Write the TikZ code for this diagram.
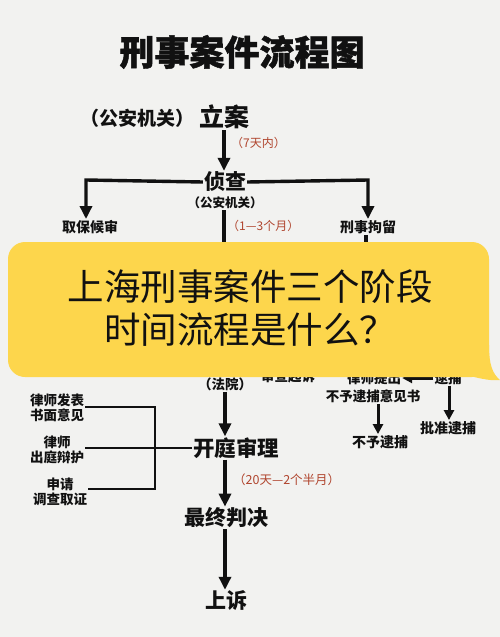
\documentclass[tikz,border=0pt]{standalone}
\usepackage{fontspec}
\newfontfamily\cjk{Noto Sans CJK SC}
\newfontfamily\cjkheavy{Noto Sans CJK SC}[BoldFeatures={FakeBold=1.3}]
\usetikzlibrary{arrows.meta,calc}
\definecolor{bgcol}{HTML}{F2F2F0}
\definecolor{bubble}{HTML}{FDD64C}
\definecolor{redlab}{HTML}{B0452E}
\definecolor{ink}{HTML}{111111}
\begin{document}
\begin{tikzpicture}[x=1pt,y=-1pt,
  txt/.style={inner sep=1pt,text=ink,font=\cjk\bfseries\fontsize{#1}{#1}\selectfont},
  txt/.default=13,
  twoline/.style={inner sep=1pt,text=ink,align=center,font=\cjk\bfseries\fontsize{13.5}{15}\selectfont},
  redtxt/.style={inner sep=1pt,text=redlab,anchor=west,font=\cjk\fontsize{#1}{#1}\selectfont},
  mainarr/.style={draw=ink,line width=3.4pt,-{Triangle[width=12pt,length=13pt]}},
  mainline/.style={draw=ink,line width=3.4pt},
  smallarr/.style={draw=ink,line width=3pt,-{Triangle[width=10pt,length=10pt]}},
  bracket/.style={draw=ink,line width=2.4pt}]
\useasboundingbox (0,0) rectangle (500,637);
\fill[bgcol] (0,0) rectangle (500,637);

% title
\node[inner sep=1pt,text=ink,font=\cjkheavy\bfseries\fontsize{35}{35}\selectfont] (title) at (242,52) {刑事案件流程图};

% top part
\node[txt=19] (gongan1) at (137,118) {（公安机关）};
\node[txt=25] (lian) at (224,117) {立案};
\node[redtxt=12] (red1) at (230,143) {（7天内）};
\node[txt=21] (zhencha) at (225,182) {侦查};
\node[txt=12.5] (gongan2) at (225,203) {（公安机关）};
\node[txt=14] (qubao) at (90,227) {取保候审};
\node[txt=14] (juliu) at (368,227) {刑事拘留};
\node[redtxt=12] (red2) at (226,226) {（1—3个月）};

\coordinate (lt) at (86,180);
\coordinate (rt) at (368,180);
\coordinate (mid1) at (224,300);
\coordinate (mid2) at (366,300);

\draw[mainarr] (lian.south) -- (lian.south |- zhencha.north);
\draw[mainarr] (zhencha.west) -- (lt) -- (lt |- qubao.north);
\draw[mainarr] (zhencha.east) -- (rt) -- (rt |- juliu.north);
\draw[mainline] (gongan2.south -| mid1) -- (mid1);
\draw[mainline] (juliu.south -| mid2) -- (mid2);

% partially hidden nodes
\node[txt=13.5] (fayuan) at (225,384) {（法院）};
\node[txt=13.5] (shencha) at (288,376) {审查起诉};
\node[txt=13.5] (tichu) at (374,378) {律师提出};
\node[txt=13.5] (daibu) at (448,378) {逮捕};
\node[txt=13.5] (yijian) at (373,396) {不予逮捕意见书};
\node[txt=14] (buyu) at (380,442) {不予逮捕};
\node[txt=14] (pizhun) at (448,428) {批准逮捕};

\draw[smallarr] (daibu.west) -- (tichu.east);
\draw[smallarr] (yijian.south -| buyu.north) ++(-2,0) coordinate (ya) -- (ya |- buyu.north);
\draw[smallarr] (daibu.south) ++(1,0) coordinate (da) -- (da |- pizhun.north);

% bubble
\fill[bubble, rounded corners=17pt] (8,242) rectangle (489,377);
\fill[bubble] (470,377) -- (480,355) -- (489,345) .. controls (489,366) and (493,374) .. (500,380) .. controls (492,381) and (482,379) .. (470,376) -- cycle;
\node[inner sep=0pt,align=center,text=ink,font=\cjk\fontsize{36.5}{43}\selectfont] (bubbletext) at (250,308.5) {上海刑事案件三个阶段\\时间流程是什么？};

% trial
\node[txt=21.5] (kaiting) at (236,448) {开庭审理};
\draw[mainarr] (fayuan.south) -- (fayuan.south |- kaiting.north);

\node[twoline] (lv1) at (57,408) {律师发表\\书面意见};
\node[twoline] (lv2) at (57,450) {律师\\出庭辩护};
\node[twoline] (lv3) at (60,492) {申请\\调查取证};
\coordinate (b1) at (155,407);
\coordinate (b3) at (155,489);
\draw[bracket] (lv1.east |- b1) -- (b1) -- (b3) -- (lv3.east |- b3);
\draw[bracket] (lv2.east |- 0,448) -- (kaiting.west |- 0,448);

\node[redtxt=12.5] (red3) at (232,480) {（20天—2个半月）};
\node[txt=21] (panjue) at (226,518) {最终判决};
\node[txt=21] (shangsu) at (226,601) {上诉};
\coordinate (ax) at (225,0);
\draw[mainarr] (kaiting.south -| ax) -- (panjue.north -| ax);
\draw[mainarr] (panjue.south -| ax) -- (shangsu.north -| ax);
\end{tikzpicture}
\end{document}
